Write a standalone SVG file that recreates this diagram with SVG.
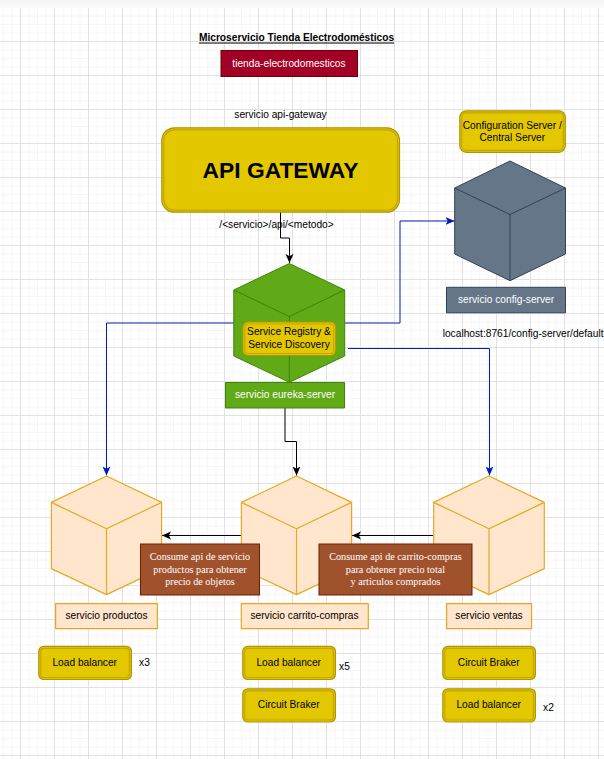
<svg xmlns="http://www.w3.org/2000/svg" width="604" height="759" viewBox="0 0 604 759">
<style>
text{font-family:"Liberation Sans",Arial,sans-serif;font-size:10.2px;fill:#000;text-anchor:middle;dominant-baseline:central}
.serif{font-family:"Liberation Serif","Times New Roman",serif;fill:#fff}
.w{fill:#fff}
.y{fill:#e3c800;stroke:#b09500;stroke-width:1.2}
.yi{fill:none;stroke:#c2a60a;stroke-width:1.2}
.o{fill:#ffe6cc;stroke:#e5a823;stroke-width:1.2;stroke-linejoin:round}
.g{fill:#60a917;stroke:#3d8508;stroke-width:1;stroke-linejoin:round}
.s{fill:#647687;stroke:#314354;stroke-width:1;stroke-linejoin:round}
.b{fill:#a0522d;stroke:#6d1f00;stroke-width:1}
.bl{fill:none;stroke:#001dbc;stroke-width:1;marker-end:url(#ab)}
.bk{fill:none;stroke:#000;stroke-width:1;marker-end:url(#ak)}
</style>
<defs>
<pattern id="grid" patternUnits="userSpaceOnUse" x="20" y="7" width="34" height="34">
<path d="M9 0V34M17.5 0V34M26 0V34M0 9H34M0 17.5H34M0 26H34" fill="none" stroke="#f6f6f6" stroke-width="1"/>
<path d="M.5 0V34M0 .5H34" fill="none" stroke="#e2e2e2" stroke-width="1"/>
</pattern>
<linearGradient id="band" x1="0" y1="0" x2="0" y2="1"><stop offset="0" stop-color="#f4f4f4"/><stop offset="1" stop-color="#fbfbfb"/></linearGradient>
<marker id="ab" markerUnits="userSpaceOnUse" markerWidth="10" markerHeight="10" refX="9" refY="5" orient="auto"><path d="M0 1L9 5L0 9L2.2 5Z" fill="#001dbc"/></marker>
<marker id="ak" markerUnits="userSpaceOnUse" markerWidth="10" markerHeight="10" refX="9" refY="5" orient="auto"><path d="M0 1L9 5L0 9L2.2 5Z" fill="#000"/></marker>
</defs>
<rect width="604" height="759" fill="#fff"/>
<rect y="8" width="604" height="751" fill="url(#grid)"/>
<rect width="604" height="8" fill="url(#band)"/>

<g id="connectors">
<path class="bk" d="M280.5 212V238H289.5V263"/>
<path class="bk" d="M285 408V441.5H296.5V475.5"/>
<path class="bl" d="M234 323H106.5V475.5"/>
<path class="bl" d="M345 323H400V221H454.5"/>
<path class="bl" d="M348 348.5H489.5V475.5"/>
<path class="bk" d="M241 535.5H162"/>
<path class="bk" d="M433.5 535.5H352"/>
</g>

<g id="title"><text x="296.5" y="37" font-weight="bold" text-decoration="underline">Microservicio Tienda Electrodomésticos</text></g>
<g id="tienda"><rect x="221" y="50.5" width="136.5" height="26" fill="#a20025" stroke="#6f0000" stroke-width="1"/><text class="w" x="289" y="63">tienda-electrodomesticos</text></g>
<g id="api-label"><text x="280.5" y="114">servicio api-gateway</text></g>
<g id="api-gateway"><rect class="y" x="161.8" y="127.8" width="237.7" height="84.4" rx="12.7"/><rect class="yi" x="163.8" y="129.8" width="233.7" height="80.4" rx="10.7"/><text x="280.5" y="169.5" style="font-size:22.8px;font-weight:bold">API GATEWAY</text></g>
<g id="api-route"><text x="276.5" y="224">/&lt;servicio&gt;/api/&lt;metodo&gt;</text></g>

<g id="config-title"><rect class="y" x="459.8" y="110.8" width="105.5" height="41.5" rx="6.5"/><rect class="yi" x="461.8" y="112.8" width="101.5" height="37.5" rx="4.5"/><text x="512.3" y="125">Configuration Server /</text><text x="512.3" y="137">Central Server</text></g>
<g id="config-cube"><path class="s" d="M510 161L565.5 188V254L510 280.7L454.7 254V188Z"/><path class="s" d="M454.7 188L510 214.5L565.5 188M510 214.5V280.7"/></g>
<g id="config-label"><rect class="s" x="446.5" y="287.3" width="119" height="25.5"/><text class="w" x="506" y="299.5">servicio config-server</text></g>
<g id="config-url"><text x="442.7" y="333" style="text-anchor:start">localhost:8761/config-server/default</text></g>

<g id="eureka-cube"><path class="g" d="M289.3 263.5L344.7 290V356L289.3 382.3L233.8 356V290Z"/><path class="g" d="M233.8 290L289.3 316.5L344.7 290M289.3 316.5V382.3"/></g>
<g id="registry"><rect class="y" x="242.8" y="322" width="93" height="33.5" rx="5"/><rect class="yi" x="244.8" y="324" width="89" height="29.5" rx="3.5"/><text x="289" y="331">Service Registry &amp;</text><text x="289" y="344">Service Discovery</text></g>
<g id="eureka-label"><rect class="g" x="225.5" y="382.5" width="119" height="25.5"/><text class="w" x="285" y="394.5">servicio eureka-server</text></g>

<g id="productos-cube"><path class="o" d="M106.5 476L161.6 502.4V568.6L106.5 594.6L51.4 568.6V502.4Z"/><path class="o" d="M51.4 502.4L106.5 528.8L161.6 502.4M106.5 528.8V594.6"/></g>
<g id="carrito-cube"><path class="o" d="M296.5 476L351.6 502.4V568.6L296.5 594.6L241.4 568.6V502.4Z"/><path class="o" d="M241.4 502.4L296.5 528.8L351.6 502.4M296.5 528.8V594.6"/></g>
<g id="ventas-cube"><path class="o" d="M489 476L544.3 502.4V568.6L489 594.6L433.7 568.6V502.4Z"/><path class="o" d="M433.7 502.4L489 528.8L544.3 502.4M489 528.8V594.6"/></g>

<g id="note-productos"><rect class="b" x="140.5" y="544" width="119" height="51"/><text class="serif" x="200" y="556.5">Consume api de servicio</text><text class="serif" x="200" y="569">productos para obtener</text><text class="serif" x="200" y="581.5">precio de objetos</text></g>
<g id="note-carrito"><rect class="b" x="319" y="544" width="153" height="51"/><text class="serif" x="395.5" y="556.5">Consume api de carrito-compras</text><text class="serif" x="395.5" y="569">para obtener precio total</text><text class="serif" x="395.5" y="581.5">y articulos comprados</text></g>

<g id="label-productos"><rect class="o" x="55.6" y="603.6" width="101.8" height="25"/><text x="106.5" y="615.5">servicio productos</text></g>
<g id="label-carrito"><rect class="o" x="241.3" y="603.6" width="127" height="25"/><text x="304.5" y="615.5">servicio carrito-compras</text></g>
<g id="label-ventas"><rect class="o" x="446.6" y="603.6" width="85" height="25"/><text x="489" y="615.5">servicio ventas</text></g>

<g id="lb-productos"><rect class="y" x="38.8" y="646.3" width="92.6" height="33.2" rx="5"/><rect class="yi" x="40.8" y="648.3" width="88.6" height="29.2" rx="3.5"/><text x="84.7" y="662">Load balancer</text></g>
<g id="x3"><text x="144.5" y="662">x3</text></g>
<g id="lb-carrito"><rect class="y" x="242.8" y="646.3" width="92.6" height="33.2" rx="5"/><rect class="yi" x="244.8" y="648.3" width="88.6" height="29.2" rx="3.5"/><text x="288.7" y="662">Load balancer</text></g>
<g id="x5"><text x="344.5" y="666">x5</text></g>
<g id="cb-carrito"><rect class="y" x="242.8" y="688.8" width="92.6" height="33.2" rx="5"/><rect class="yi" x="244.8" y="690.8" width="88.6" height="29.2" rx="3.5"/><text x="288.7" y="704">Circuit Braker</text></g>
<g id="cb-ventas"><rect class="y" x="442.8" y="646.3" width="92.6" height="33.2" rx="5"/><rect class="yi" x="444.8" y="648.3" width="88.6" height="29.2" rx="3.5"/><text x="488.7" y="662">Circuit Braker</text></g>
<g id="lb-ventas"><rect class="y" x="442.8" y="688.8" width="92.6" height="33.2" rx="5"/><rect class="yi" x="444.8" y="690.8" width="88.6" height="29.2" rx="3.5"/><text x="488.7" y="704">Load balancer</text></g>
<g id="x2"><text x="548.5" y="707">x2</text></g>
</svg>
